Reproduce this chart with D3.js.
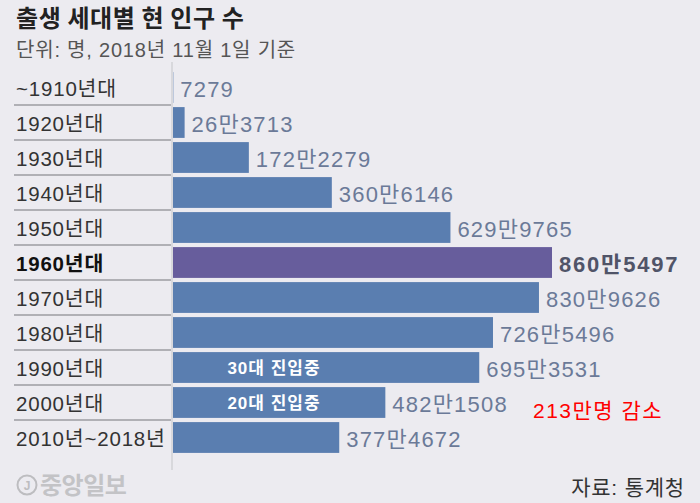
<!DOCTYPE html>
<html>
<head>
<meta charset="utf-8">
<script src="https://cdn.jsdelivr.net/npm/d3@7"></script>
<style>
html,body{margin:0;padding:0;background:#ecebf0;}
svg{display:block;}
text{font-family:"Liberation Sans","Noto Sans CJK KR",sans-serif;}
</style>
</head>
<body>
<svg id="chart" width="700" height="503"></svg>
<script>
const categories = ["~1910년대","1920년대","1930년대","1940년대","1950년대","1960년대","1970년대","1980년대","1990년대","2000년대","2010년~2018년"];
const population = [7279,263713,1722279,3606146,6299765,8605497,8309626,7265496,6953531,4821508,3774672];
const highlight = "1960년대";
const notes = [{cat:"1990년대", text:"30대 진입중"},{cat:"2000년대", text:"20대 진입중"}];
const title = "출생 세대별 현 인구 수";
const subtitle = "단위: 명, 2018년 11월 1일 기준";
const source = "자료: 통계청";
const decreaseNote = "213만명 감소";

const svg = d3.select("#chart");
svg.append("rect").attr("width",700).attr("height",503).attr("fill","#ecebf0");

const x = d3.scaleLinear().domain([0, d3.max(population)]).range([173, 552]);
const y = d3.scaleBand().domain(categories).range([70, 455]).paddingInner(0.12).paddingOuter(0.06);
const data = categories.map((c,i)=>({cat:c, v:population[i]}));
const fmt = v => v >= 10000 ? Math.floor(v/10000) + "만" + (v % 10000) : String(v);

svg.append("text").attr("x",16).attr("y",27).attr("font-size",24).attr("font-weight",700).attr("fill","#222")
  .style("font-family","'Noto Sans CJK KR',sans-serif").attr("letter-spacing",0.6).text(title);
svg.append("text").attr("x",16).attr("y",57).attr("font-size",20).attr("fill","#555").attr("letter-spacing",0.8).text(subtitle);

// vertical axis line
svg.append("line").attr("x1",172).attr("x2",172).attr("y1",62).attr("y2",470).attr("stroke","#d2d2d6").attr("stroke-width",1.5);

// separators
svg.selectAll("line.sep").data(categories.slice(1)).join("line").attr("class","sep")
  .attr("x1",14).attr("x2",171).attr("y1",d=>y(d)-2).attr("y2",d=>y(d)-2)
  .attr("stroke","#9d9da2").attr("stroke-width",1.5);

// bars
svg.selectAll("rect.bar").data(data).join("rect").attr("class","bar")
  .attr("x",x(0)).attr("y",d=>y(d.cat)).attr("height",y.bandwidth())
  .attr("width",d=>x(d.v)-x(0))
  .attr("fill",d=>d.cat===highlight?"#675d9c":"#5a7eb0");

// category labels
svg.selectAll("text.cat").data(data).join("text").attr("class","cat")
  .attr("x",16).attr("y",d=>y(d.cat)+y.bandwidth()/2+8)
  .attr("font-size",20.5).attr("font-weight",d=>d.cat===highlight?700:400)
  .attr("fill",d=>d.cat===highlight?"#111":"#333").attr("letter-spacing",0.8)
  .text(d=>d.cat);

// value labels
svg.selectAll("text.val").data(data).join("text").attr("class","val")
  .attr("x",d=>x(d.v)+7).attr("y",d=>y(d.cat)+y.bandwidth()/2+9)
  .attr("font-size",22).attr("font-weight",d=>d.cat===highlight?700:400)
  .attr("fill",d=>d.cat===highlight?"#505468":"#6b7a98")
  .attr("letter-spacing",d=>d.cat===highlight?1.8:1.2)
  .text(d=>fmt(d.v));

// in-bar notes
svg.selectAll("text.note").data(notes).join("text").attr("class","note")
  .attr("x",274).attr("y",d=>y(d.cat)+y.bandwidth()/2+6)
  .attr("text-anchor","middle").attr("font-size",17).attr("font-weight",700).attr("fill","#fff").attr("letter-spacing",1)
  .text(d=>d.text);

svg.append("text").attr("x",533).attr("y",418).attr("font-size",21).attr("fill","#ff0000").attr("letter-spacing",1.5).text(decreaseNote);

svg.append("text").attr("x",685).attr("y",495).attr("text-anchor","end").attr("font-size",21).attr("fill","#333").attr("letter-spacing",0.8).text(source);

// logo
svg.append("circle").attr("cx",27).attr("cy",485).attr("r",9.5).attr("fill","none").attr("stroke","#bdbdc0").attr("stroke-width",2);
svg.append("text").attr("x",27).attr("y",490).attr("text-anchor","middle").attr("font-size",12).attr("font-weight",700).attr("fill","#bdbdc0").text("J");
svg.append("text").attr("x",40).attr("y",494).attr("font-size",24).attr("font-weight",700).attr("fill","#c3c3c6").attr("letter-spacing",-0.5).text("중앙일보");
</script>
</body>
</html>
